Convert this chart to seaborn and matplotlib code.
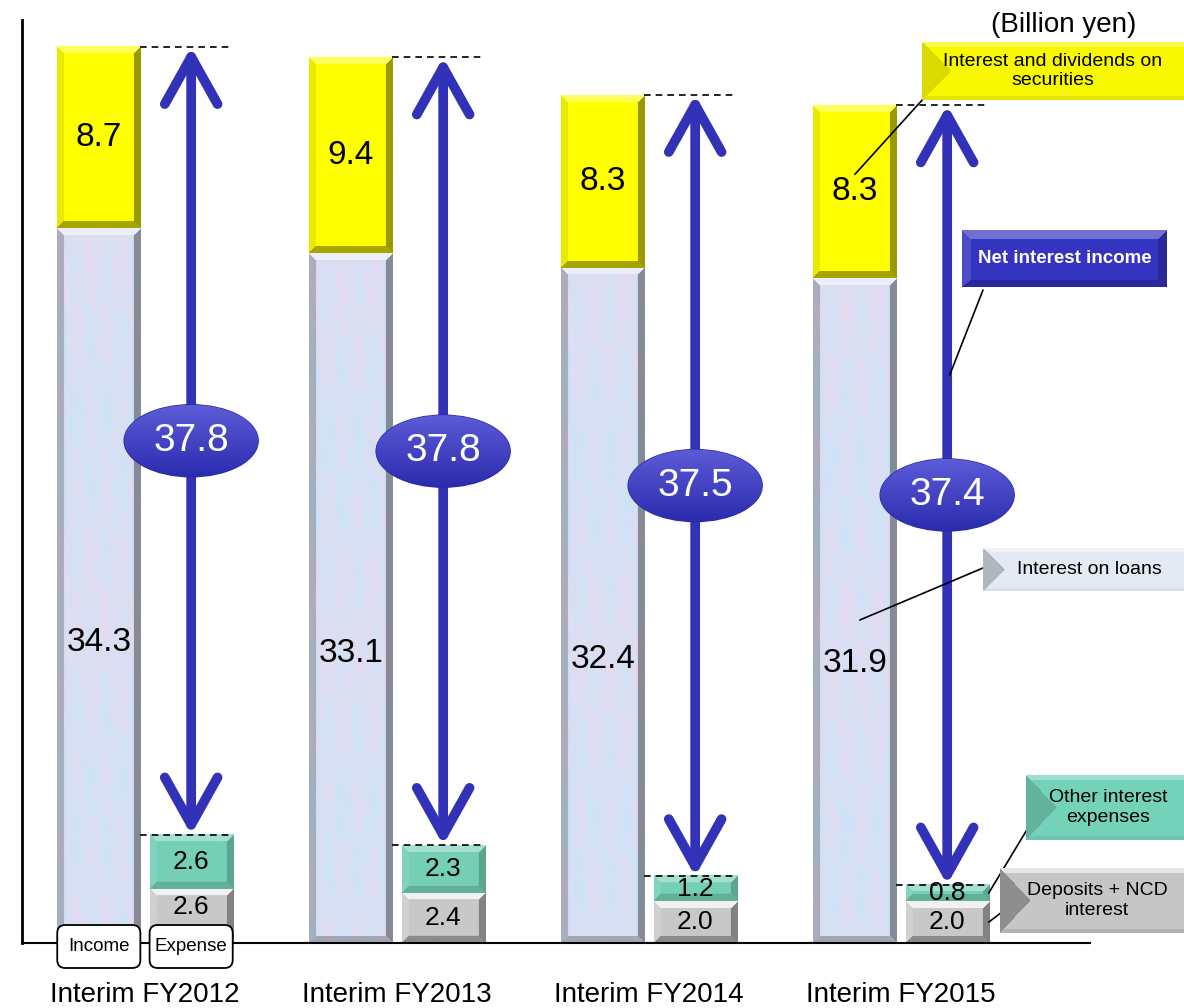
import numpy as np
import pandas as pd
import matplotlib
matplotlib.use("Agg")
import matplotlib.pyplot as plt
import seaborn as sns
from matplotlib.patches import FancyArrowPatch, Ellipse, FancyBboxPatch
from matplotlib.transforms import blended_transform_factory
from matplotlib.colors import to_rgb

# ---- data (billion yen) ----
periods = ["Interim FY2012", "Interim FY2013", "Interim FY2014", "Interim FY2015"]
loans = [34.3, 33.1, 32.4, 31.9]            # interest on loans
securities = [8.7, 9.4, 8.3, 8.3]           # interest and dividends on securities
deposits_ncd = [2.6, 2.4, 2.0, 2.0]         # deposits + NCD interest
other_expenses = [2.6, 2.3, 1.2, 0.8]       # other interest expenses
net_interest = [37.8, 37.8, 37.5, 37.4]     # net interest income
sides = ["Income", "Expense"]
unit_label = "(Billion yen)"

income_total = [round(a + b, 1) for a, b in zip(loans, securities)]
expense_total = [round(a + b, 1) for a, b in zip(deposits_ncd, other_expenses)]

totals = pd.DataFrame({"period": periods * 2,
                       "side": ["Income"] * 4 + ["Expense"] * 4,
                       "value": income_total + expense_total})
bases = pd.DataFrame({"period": periods * 2,
                      "side": ["Income"] * 4 + ["Expense"] * 4,
                      "value": loans + deposits_ncd})

sns.set_theme(style="white")
plt.rcParams["font.family"] = ["Liberation Sans", "DejaVu Sans"]
plt.rcParams["text.color"] = "black"
plt.rcParams["xtick.color"] = "black"

W, H = 1184, 1008
fig = plt.figure(figsize=(W / 100, H / 100), dpi=100)
ax = fig.add_axes([22 / W, 65 / H, 1068 / W, 923 / H])

C_SEC, C_OTHER, C_LOAN, C_DEP = "#FFFF00", "#74CFB6", "#D5E2F4", "#C8C8C8"
C_ARROW = "#3232B9"

bar_kw = dict(x="period", y="value", hue="side", hue_order=sides, width=0.733,
              gap=0.1, legend=False, saturation=1, errorbar=None, ax=ax)
sns.barplot(data=totals, palette={"Income": C_SEC, "Expense": C_OTHER}, **bar_kw)
sns.barplot(data=bases, palette={"Income": C_LOAN, "Expense": C_DEP}, **bar_kw)

XMIN, XMAX, YMAX = -0.488, 3.75, 44.29
ax.set_xlim(XMIN, XMAX)
ax.set_ylim(0, YMAX)
px_x = 1068 / (XMAX - XMIN)
px_y = 923 / YMAX


def loans_texture(xx, yy):
    t = (0.5 + 0.22 * np.sin(xx * 0.21 + 0.9) * np.sin(yy * 0.043)
         + 0.16 * np.sin(xx * 0.37 - yy * 0.11) * np.cos(yy * 0.07 + xx * 0.13)
         + 0.1 * np.sin(yy * 0.017 + 1.3))
    t = np.clip(t, 0, 1)[..., None]
    c1 = np.array(to_rgb("#C9E5F7"))
    c2 = np.array(to_rgb("#E8DAF0"))
    return c1 * (1 - t) + c2 * t


def shade(img, m, amt):
    if amt >= 0:
        img[m] = img[m] + (1 - img[m]) * amt
    else:
        img[m] = img[m] * (1 + amt)


def bevel_image(w_px, h_px, base, sizes, top=0.5, bottom=-0.3, left=0.1, right=-0.35,
                texture=None, left_triangle=False):
    w_px = max(int(round(w_px)), 2)
    h_px = max(int(round(h_px)), 2)
    yy, xx = np.mgrid[0:h_px, 0:w_px].astype(float)
    if texture is None:
        img = np.broadcast_to(np.array(to_rgb(base)), (h_px, w_px, 3)).copy()
    else:
        img = texture(xx, yy)
    bt, bb, bl, br = sizes
    bt, bb = min(bt, h_px / 2), min(bb, h_px / 2)
    bl, br = min(bl, w_px / 2), min(br, w_px / 2)
    if left_triangle:
        half = (h_px - 1) / 2
        m_left = xx < bl * (1 - np.abs(yy - half) / half)
        m_top = (yy < bt) & ~m_left
        m_bot = (h_px - 1 - yy < bb) & ~m_left
        m_right = (w_px - 1 - xx < br) & ~m_top & ~m_bot
        for m, amt in ((m_left, left), (m_top, top), (m_bot, bottom), (m_right, right)):
            shade(img, m, amt)
    else:
        d = np.stack([yy / bt, (h_px - 1 - yy) / bb, xx / bl, (w_px - 1 - xx) / br])
        side = d.argmin(axis=0)
        inside = d.min(axis=0) < 1
        for k, amt in enumerate([top, bottom, left, right]):
            shade(img, inside & (side == k), amt)
    return np.clip(img, 0, 1)


def draw_segment(x0, w, y0, y1, base, texture=None, **kw):
    img = bevel_image(w * px_x, (y1 - y0) * px_y, base, (7, 7, 7, 7),
                      texture=texture, **kw)
    ax.imshow(img, extent=[x0, x0 + w, y0, y1], aspect="auto", origin="upper",
              interpolation="bilinear", zorder=2)


TAG_TOP = 18 / px_y   # height of the Income/Expense tags above the baseline

inc_tot_c, exp_tot_c, loan_c, dep_c = ax.containers[:4]
for i in range(len(periods)):
    lp, tp = loan_c[i], inc_tot_c[i]
    x0, w = lp.get_x(), lp.get_width()
    draw_segment(x0, w, 0, lp.get_height(), C_LOAN, texture=loans_texture,
                 top=0.5, bottom=-0.25, left=-0.22, right=-0.38)
    draw_segment(x0, w, lp.get_height(), tp.get_height(), C_SEC,
                 top=0.35, bottom=-0.35, left=-0.08, right=-0.4)
    dp, ep = dep_c[i], exp_tot_c[i]
    ex0, ew = dp.get_x(), dp.get_width()
    draw_segment(ex0, ew, 0, dp.get_height(), C_DEP,
                 top=0.75, bottom=-0.3, left=0.15, right=-0.35)
    draw_segment(ex0, ew, dp.get_height(), ep.get_height(), C_OTHER,
                 top=0.35, bottom=-0.15, left=0.1, right=-0.2)

    xi = x0 + w / 2
    xe = ex0 + ew / 2
    # value labels
    ax.text(xi, loans[i] * 0.42, f"{loans[i]:.1f}", ha="center", va="center",
            fontsize=24, zorder=6)
    ax.text(xi, loans[i] + securities[i] / 2, f"{securities[i]:.1f}", ha="center",
            va="center", fontsize=24, zorder=6)
    dep_floor = TAG_TOP if i == 0 else 0.0
    ax.text(xe, (dep_floor + deposits_ncd[i]) / 2, f"{deposits_ncd[i]:.1f}",
            ha="center", va="center", fontsize=19, zorder=6)
    ax.text(xe, deposits_ncd[i] + other_expenses[i] / 2, f"{other_expenses[i]:.1f}",
            ha="center", va="center", fontsize=19, zorder=6)

    # dashed guides at the top of income and expense
    for yv in (income_total[i], expense_total[i]):
        ax.plot([i - 0.02, i + 0.34], [yv, yv], color="black", lw=1.2,
                ls=(0, (4, 3)), zorder=3)

    # double-headed net interest arrow
    arr = FancyArrowPatch((xe, expense_total[i]), (xe, income_total[i]),
                          arrowstyle="<->,head_length=1.7,head_width=0.95",
                          mutation_scale=20, lw=7, color=C_ARROW,
                          shrinkA=0, shrinkB=0, capstyle="round",
                          joinstyle="round", zorder=4)
    ax.add_patch(arr)

    # ellipse badge with net interest income
    mid = (income_total[i] + expense_total[i]) / 2
    ew_d, eh_d = 134 / px_x, 72 / px_y
    ell = Ellipse((xe, mid), ew_d, eh_d, fc=C_ARROW, ec="#2A2AA0", lw=1, zorder=5)
    ax.add_patch(ell)
    grad = np.linspace(0, 1, 64)[:, None, None]
    gimg = (np.array(to_rgb("#5C5CD8")) * (1 - grad) + np.array(to_rgb("#2B2BAE")) * grad)
    gimg = np.repeat(gimg, 8, axis=1)
    gi = ax.imshow(gimg, extent=[xe - ew_d / 2, xe + ew_d / 2, mid - eh_d / 2, mid + eh_d / 2],
                   aspect="auto", origin="upper", interpolation="bilinear", zorder=5.1)
    gi.set_clip_path(ell)
    ax.text(xe, mid, f"{net_interest[i]:.1f}", ha="center", va="center",
            fontsize=28, color="white", zorder=6)

ax.set_xlim(XMIN, XMAX)
ax.set_ylim(0, YMAX)

# axes styling
ax.set_xlabel("")
ax.set_ylabel("")
ax.set_yticks([])
ax.tick_params(axis="x", length=0, pad=28, labelsize=20, colors="black")
for s in ("top", "right"):
    ax.spines[s].set_visible(False)
ax.spines["left"].set_color("black")
ax.spines["left"].set_linewidth(2.0)
ax.spines["bottom"].set_color("black")
ax.spines["bottom"].set_linewidth(1.5)
ax.spines["left"].set_zorder(7)

# Income / Expense tags under the first pair of bars
tr = blended_transform_factory(ax.transData, ax.transAxes)
for cont, name in ((inc_tot_c, "Income"), (exp_tot_c, "Expense")):
    p = cont[0]
    y0, y1 = -25 / 923, 18 / 923
    box = FancyBboxPatch((p.get_x(), y0), p.get_width(), y1 - y0,
                         boxstyle="round,pad=0,rounding_size=0.032",
                         mutation_aspect=0.271, transform=tr, fc="white",
                         ec="black", lw=1.3, clip_on=False, zorder=8)
    ax.add_patch(box)
    ax.text(p.get_x() + p.get_width() / 2, (y0 + y1) / 2, name, transform=tr,
            ha="center", va="center", fontsize=13.5, zorder=9, clip_on=False)

fig.text(1136 / W, 1 - 25 / H, unit_label, ha="right", va="center", fontsize=20)


# callout boxes (pixel positions from the top-left corner)
def callout(x, y, w, h, text, base, sizes, shades, fontsize=14, color="black",
            weight="normal", tx=0.5, left_triangle=True):
    cax = fig.add_axes([x / W, 1 - (y + h) / H, w / W, h / H])
    cax.axis("off")
    img = bevel_image(w, h, base, sizes, left_triangle=left_triangle, **shades)
    cax.imshow(img, extent=[0, 1, 0, 1], aspect="auto", origin="upper",
               interpolation="bilinear")
    cax.set_xlim(0, 1)
    cax.set_ylim(0, 1)
    cax.text(tx, 0.5, text, ha="center", va="center", fontsize=fontsize,
             color=color, weight=weight, linespacing=1.2)


def px_to_data(px, py):
    return XMIN + (px - 22) / px_x, (943 - py) / px_y


def leader(p_data, p_px):
    ax.annotate("", xy=p_data, xycoords="data",
                xytext=(p_px[0] / W, 1 - p_px[1] / H), textcoords="figure fraction",
                arrowprops=dict(arrowstyle="-", lw=1.2, color="black",
                                shrinkA=0, shrinkB=0),
                annotation_clip=False, zorder=9)


callout(922, 42, 290, 58, "Interest and dividends on\nsecurities", "#F8F800",
        (5, 4, 29, 4), dict(top=0.3, bottom=-0.08, left=-0.12, right=0.05),
        tx=(1053 - 922) / 290)
callout(962, 230, 205, 57, "Net interest income", "#3434C0", (9, 7, 9, 9),
        dict(top=0.3, bottom=-0.2, left=0.12, right=-0.2), color="white",
        weight="bold", fontsize=13.5, left_triangle=False)
callout(983, 548, 230, 43, "Interest on loans", "#E3EAF4", (4, 3, 22, 4),
        dict(top=0.4, bottom=-0.04, left=-0.22, right=0.0), tx=(1089 - 983) / 230)
callout(1026, 775, 190, 65, "Other interest\nexpenses", "#74D2B9", (5, 4, 30, 6),
        dict(top=0.3, bottom=-0.06, left=-0.15, right=0.35), tx=(1108 - 1026) / 190)
callout(1000, 868, 215, 65, "Deposits + NCD\ninterest", "#C6C6C6", (5, 4, 30, 6),
        dict(top=0.55, bottom=-0.1, left=-0.28, right=0.2), tx=(1097 - 1000) / 215)

i = 3
inc_x = inc_tot_c[i].get_x() + inc_tot_c[i].get_width() / 2
exp_x = exp_tot_c[i].get_x() + exp_tot_c[i].get_width() / 2
exp_r = exp_tot_c[i].get_x() + exp_tot_c[i].get_width()
leader((inc_x, loans[i] + securities[i] * 0.6), (924, 98))
leader((exp_x + 0.01, px_to_data(0, 375)[1]), (983, 290))
leader((inc_x + 0.02, px_to_data(0, 620)[1]), (983, 568))
leader((exp_r, deposits_ncd[i] + other_expenses[i] / 2), (1028, 828))
leader((exp_r, deposits_ncd[i] / 2), (1002, 912))

fig.savefig("out.png", dpi=100)
